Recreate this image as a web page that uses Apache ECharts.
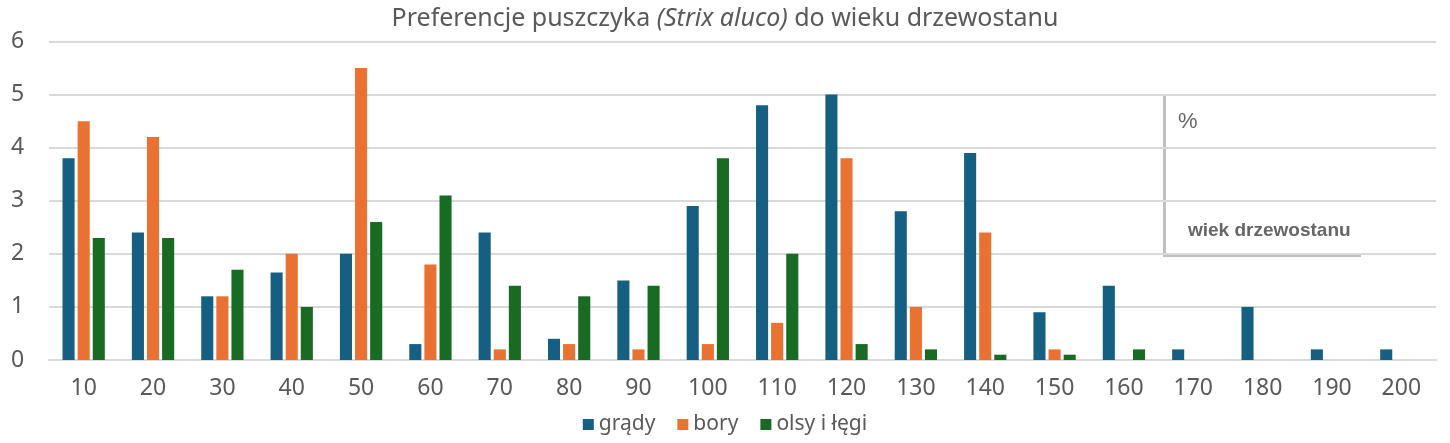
<!DOCTYPE html>
<html>
<head>
<meta charset="utf-8">
<script src="https://cdn.jsdelivr.net/npm/echarts@6/dist/echarts.min.js"></script>
<style>
  html, body { margin: 0; padding: 0; background: #fff; }
  #chart { width: 1450px; height: 443px; }
</style>
</head>
<body>
<div id="chart"></div>
<script>
var ages = ['10', '20', '30', '40', '50', '60', '70', '80', '90', '100',
            '110', '120', '130', '140', '150', '160', '170', '180', '190', '200'];
var grady = [3.8, 2.4, 1.2, 1.65, 2.0, 0.3, 2.4, 0.4, 1.5, 2.9,
             4.8, 5.0, 2.8, 3.9, 0.9, 1.4, 0.2, 1.0, 0.2, 0.2];
var bory = [4.5, 4.2, 1.2, 2.0, 5.5, 1.8, 0.2, 0.3, 0.2, 0.3,
            0.7, 3.8, 1.0, 2.4, 0.2, 0, 0, 0, 0, 0];
var olsy = [2.3, 2.3, 1.7, 1.0, 2.6, 3.1, 1.4, 1.2, 1.4, 3.8,
            2.0, 0.3, 0.2, 0.1, 0.1, 0.2, 0, 0, 0, 0];

var textColor = '#595959';
var font = '"Noto Sans", Roboto, sans-serif';

var chart = echarts.init(document.getElementById('chart'));
chart.setOption({
    animation: false,
    title: {
        text: 'Preferencje puszczyka {i|(Strix aluco)} do wieku drzewostanu',
        left: 'center',
        top: 1,
        textStyle: {
            fontFamily: font,
            fontSize: 25,
            fontWeight: 'normal',
            color: textColor,
            rich: {
                i: { fontFamily: font, fontSize: 25, fontStyle: 'italic', color: textColor }
            }
        }
    },
    legend: {
        top: 409,
        left: 'center',
        itemWidth: 11,
        itemHeight: 11,
        itemGap: 22,
        icon: 'rect',
        textStyle: { fontFamily: font, fontSize: 21, color: textColor }
    },
    grid: { left: 49, right: 14, top: 41.5, bottom: 83 },
    xAxis: {
        type: 'category',
        data: ages,
        axisLine: { show: true, lineStyle: { color: '#d9d9d9', width: 2 } },
        axisTick: { show: false },
        axisLabel: { fontFamily: font, fontSize: 23, color: textColor, margin: 17 }
    },
    yAxis: {
        type: 'value',
        min: 0,
        max: 6,
        interval: 1,
        axisLine: { show: false },
        axisTick: { show: false },
        axisLabel: { fontFamily: font, fontSize: 23, color: textColor, margin: 38, align: 'left' },
        splitLine: { lineStyle: { color: '#d9d9d9', width: 2 } }
    },
    series: [
        { name: 'grądy', type: 'bar', data: grady, barGap: '25%', barCategoryGap: '39%',
          itemStyle: { color: '#156082' } },
        { name: 'bory', type: 'bar', data: bory,
          itemStyle: { color: '#E97132' } },
        { name: 'olsy i łęgi', type: 'bar', data: olsy,
          itemStyle: { color: '#196B24' } }
    ],
    graphic: [
        { type: 'line', shape: { x1: 1164.5, y1: 94, x2: 1164.5, y2: 255 },
          style: { stroke: '#bfbfbf', lineWidth: 3 } },
        { type: 'line', shape: { x1: 1163, y1: 255.5, x2: 1361, y2: 255.5 },
          style: { stroke: '#bfbfbf', lineWidth: 3 } },
        { type: 'text', left: 1178, top: 111,
          style: { text: '%', fontFamily: '"Liberation Sans", Arial, sans-serif', fontSize: 22, fill: '#666666' } },
        { type: 'text', left: 1188, top: 221,
          style: { text: 'wiek drzewostanu', fontFamily: '"Liberation Sans", Arial, sans-serif', fontSize: 19, fontWeight: 'bold', fill: '#666666' } }
    ]
});
</script>
</body>
</html>
